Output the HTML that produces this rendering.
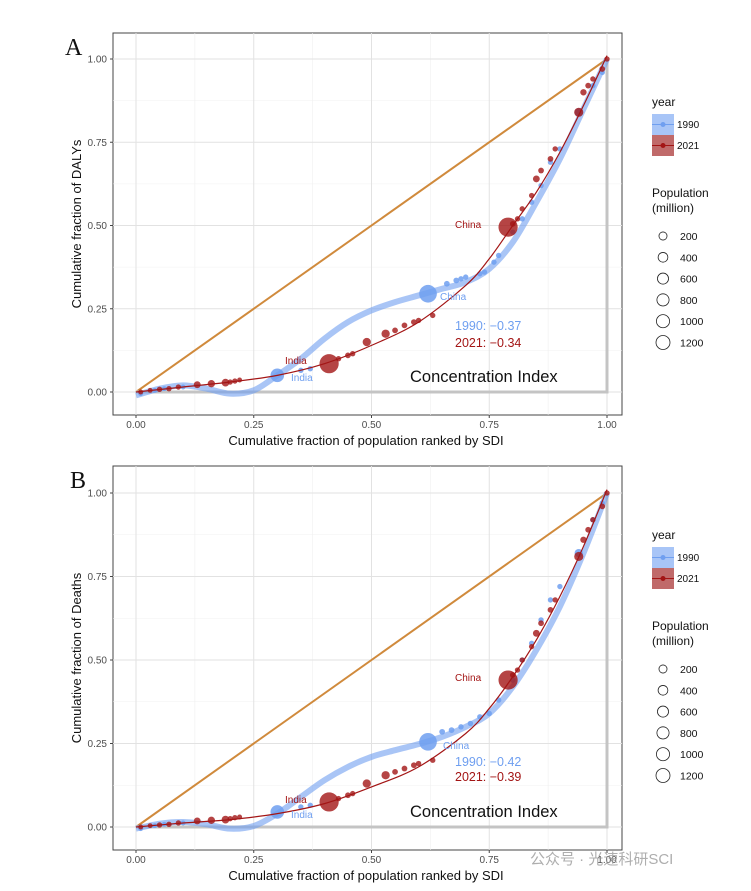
<!DOCTYPE html>
<html><head><meta charset="utf-8"><style>
body{margin:0;background:#fff;width:751px;height:891px;overflow:hidden;font-family:"Liberation Sans","Noto Sans CJK SC",sans-serif}
svg{display:block}
</style></head><body>
<svg id="chart" width="751" height="891" viewBox="0 0 751 891" xmlns="http://www.w3.org/2000/svg"></svg>
<script>
// ---- data: panel A (DALYs) ----
const tickValues = [0, 0.25, 0.5, 0.75, 1];
const tickLabels = ["0.00", "0.25", "0.50", "0.75", "1.00"];
const legendPops = [200, 400, 600, 800, 1000, 1200];
const aCurve1990X = [0,0.05,0.1,0.15,0.2,0.25,0.3,0.35,0.4,0.45,0.5,0.55,0.6,0.65,0.7,0.75,0.8,0.85,0.9,0.95,1];
const aCurve1990Y = [-0.01,0.01,0.02,0.01,-0.005,0.005,0.05,0.1,0.16,0.21,0.245,0.27,0.29,0.31,0.33,0.37,0.45,0.57,0.7,0.85,1.0];
const aCurve2021X = [0,0.1,0.2,0.3,0.4,0.5,0.6,0.7,0.75,0.8,0.85,0.9,0.95,1];
const aCurve2021Y = [0,0.015,0.03,0.05,0.085,0.14,0.21,0.32,0.4,0.5,0.6,0.72,0.86,1.01];
const aPts1990X = [0.01,0.04,0.06,0.1,0.3,0.35,0.37,0.62,0.66,0.68,0.69,0.7,0.73,0.74,0.76,0.77,0.8,0.82,0.84,0.86,0.88,0.9,0.94,0.97,0.99];
const aPts1990Y = [-0.005,0.005,0.01,0.015,0.05,0.065,0.07,0.295,0.325,0.335,0.34,0.345,0.355,0.36,0.39,0.41,0.48,0.52,0.57,0.62,0.69,0.73,0.84,0.92,0.96];
const aPts1990Pop = [20,20,20,20,600,30,30,1150,40,40,30,30,30,30,30,30,30,30,30,30,30,30,150,30,30];
const aPts2021X = [0.01,0.03,0.05,0.07,0.09,0.13,0.16,0.19,0.2,0.21,0.22,0.41,0.43,0.45,0.46,0.49,0.53,0.55,0.57,0.59,0.6,0.63,0.79,0.8,0.81,0.82,0.84,0.85,0.86,0.88,0.89,0.94,0.95,0.96,0.97,0.99,1.0];
const aPts2021Y = [0,0.005,0.008,0.01,0.015,0.022,0.025,0.028,0.03,0.033,0.036,0.085,0.1,0.11,0.115,0.15,0.175,0.185,0.2,0.21,0.215,0.23,0.495,0.505,0.52,0.55,0.59,0.64,0.665,0.7,0.73,0.84,0.9,0.92,0.94,0.97,1.0];
const aPts2021Pop = [20,20,30,30,30,80,100,120,30,30,20,1400,30,40,30,150,150,40,40,40,30,30,1400,40,30,30,30,80,40,40,30,200,60,40,30,40,30];
// ---- data: panel B (Deaths) ----
const bCurve1990X = [0,0.05,0.1,0.15,0.2,0.25,0.3,0.35,0.4,0.45,0.5,0.55,0.6,0.65,0.7,0.75,0.8,0.85,0.9,0.95,1];
const bCurve1990Y = [-0.005,0.01,0.015,0.008,-0.005,0.003,0.04,0.09,0.14,0.18,0.21,0.23,0.248,0.27,0.3,0.34,0.42,0.53,0.66,0.82,1.0];
const bCurve2021X = [0,0.1,0.2,0.3,0.4,0.5,0.6,0.7,0.75,0.8,0.85,0.9,0.95,1];
const bCurve2021Y = [0,0.012,0.022,0.04,0.07,0.12,0.18,0.28,0.355,0.45,0.56,0.69,0.84,1.01];
const bPts1990X = [0.01,0.04,0.06,0.1,0.3,0.35,0.37,0.62,0.65,0.67,0.69,0.71,0.73,0.75,0.77,0.8,0.82,0.84,0.86,0.88,0.9,0.94,0.97,0.99];
const bPts1990Y = [-0.005,0.004,0.008,0.012,0.045,0.06,0.065,0.255,0.285,0.29,0.3,0.31,0.33,0.34,0.38,0.44,0.5,0.55,0.62,0.68,0.72,0.82,0.92,0.97];
const bPts1990Pop = [20,20,20,20,600,30,30,1150,40,40,30,30,30,30,30,30,30,30,30,30,30,150,30,30];
const bPts2021X = [0.01,0.03,0.05,0.07,0.09,0.13,0.16,0.19,0.2,0.21,0.22,0.41,0.43,0.45,0.46,0.49,0.53,0.55,0.57,0.59,0.6,0.63,0.79,0.8,0.81,0.82,0.84,0.85,0.86,0.88,0.89,0.94,0.95,0.96,0.97,0.99,1.0];
const bPts2021Y = [0,0.004,0.006,0.008,0.012,0.018,0.02,0.022,0.025,0.028,0.03,0.075,0.085,0.095,0.1,0.13,0.155,0.165,0.175,0.185,0.19,0.2,0.44,0.455,0.47,0.5,0.54,0.58,0.61,0.65,0.68,0.81,0.86,0.89,0.92,0.96,1.0];
const bPts2021Pop = [20,20,30,30,30,80,100,120,30,30,20,1400,30,40,30,150,150,40,40,40,30,30,1400,40,30,30,30,80,40,40,30,200,60,40,30,40,30];

const NS = "http://www.w3.org/2000/svg";
const svg = document.getElementById("chart");
function mk(tag, attrs, parent, text) {
  const e = document.createElementNS(NS, tag);
  for (const k in attrs) e.setAttribute(k, attrs[k]);
  if (text !== undefined) e.textContent = text;
  (parent || svg).appendChild(e);
  return e;
}
const BLUE = "#6f9ff0", RED = "#a31515";
function rOf(p) { return 1.5 + Math.sqrt(p / 1200) * 7.5; }

function panel(o) {
  const x0 = 136, x1 = 607, y0 = o.y0, y1 = o.y1;
  const sx = v => x0 + v * (x1 - x0);
  const sy = v => y0 + v * (y1 - y0);
  const g = mk("g", {});
  
  
  mk("rect", { x: 113, y: o.top, width: 509, height: o.bottom - o.top, fill: "#fff", stroke: "#444", "stroke-width": 1 }, g);
  // minor grid
  for (let i = 0; i < 4; i++) {
    const m = 0.125 + i * 0.25;
    mk("line", { x1: sx(m), x2: sx(m), y1: o.top, y2: o.bottom, stroke: "#f0f0f0", "stroke-width": 0.6 }, g);
    mk("line", { x1: 113, x2: 622, y1: sy(m), y2: sy(m), stroke: "#f0f0f0", "stroke-width": 0.6 }, g);
  }
  tickValues.forEach((v, i) => {
    const gx = mk("line", { x1: sx(v), x2: sx(v), y1: o.top, y2: o.bottom, stroke: "#e2e2e2", "stroke-width": 1 }, g);
    
    
    mk("line", { x1: 113, x2: 622, y1: sy(v), y2: sy(v), stroke: "#e2e2e2", "stroke-width": 1 }, g);
    mk("line", { x1: sx(v), x2: sx(v), y1: o.bottom, y2: o.bottom + 3, stroke: "#444" }, g);
    mk("line", { x1: 110, x2: 113, y1: sy(v), y2: sy(v), stroke: "#444" }, g);
    const xt = mk("text", { x: sx(v), y: o.bottom + 13, "text-anchor": "middle", "font-size": 10, fill: "#4d4d4d" }, g, tickLabels[i]);
    
    
    const yt = mk("text", { x: 107, y: sy(v) + 3.5, "text-anchor": "end", "font-size": 10, fill: "#4d4d4d" }, g, tickLabels[i]);
    
    
  });
  const xTitle = mk("text", { x: 366, y: o.bottom + 30, "text-anchor": "middle", "font-size": 13, fill: "#111" }, g, "Cumulative fraction of population ranked by SDI");
  
  
  const yTitle = mk("text", { x: 0, y: 0, transform: `translate(81,${(o.top + o.bottom) / 2}) rotate(-90)`, "text-anchor": "middle", "font-size": 13, fill: "#111" }, g, o.ytitle);
  
  
  const lab = mk("text", { x: o.labX, y: o.top + 22, "font-size": 24, "font-family": "Liberation Serif, serif", fill: "#111" }, g, o.letter);
  
  
  // equality line & gray bound
  const eq = mk("line", { x1: sx(0), y1: sy(0), x2: sx(1), y2: sy(1), stroke: "#d08a3c", "stroke-width": 2 }, g);
  
  
  const gb = mk("polyline", { points: `${sx(0)},${sy(0)} ${sx(1)},${sy(0)} ${sx(1)},${sy(1)}`, fill: "none", stroke: "#c4c4c4", "stroke-width": 3 }, g);
  
  
  function curve(xs, ys) {
    let d = "M" + sx(xs[0]) + "," + sy(ys[0]);
    for (let i = 0; i < xs.length - 1; i++) {
      const p0 = [sx(xs[Math.max(0, i - 1)]), sy(ys[Math.max(0, i - 1)])];
      const p1 = [sx(xs[i]), sy(ys[i])], p2 = [sx(xs[i + 1]), sy(ys[i + 1])];
      const p3 = [sx(xs[Math.min(xs.length - 1, i + 2)]), sy(ys[Math.min(xs.length - 1, i + 2)])];
      d += ` C${p1[0] + (p2[0] - p0[0]) / 6},${p1[1] + (p2[1] - p0[1]) / 6} ${p2[0] - (p3[0] - p1[0]) / 6},${p2[1] - (p3[1] - p1[1]) / 6} ${p2[0]},${p2[1]}`;
    }
    return d;
  }
  const c1 = mk("path", { d: curve(o.c90x, o.c90y), fill: "none", stroke: BLUE, "stroke-width": 6, opacity: 0.6 }, g);
  
  
  o.p90x.forEach((v, i) => {
    const c = mk("circle", { cx: sx(v), cy: sy(o.p90y[i]), r: rOf(o.p90p[i]), fill: BLUE, opacity: 0.85 }, g);
    
    
  });
  o.p21x.forEach((v, i) => {
    const c = mk("circle", { cx: sx(v), cy: sy(o.p21y[i]), r: rOf(o.p21p[i]), fill: RED, opacity: 0.8 }, g);
    
    
  });
  const c2 = mk("path", { d: curve(o.c21x, o.c21y), fill: "none", stroke: RED, "stroke-width": 1.2 }, g);
  
  
  o.labels.forEach(l => {
    const t = mk("text", { x: l[0], y: l[1], "font-size": l[4], fill: l[3] }, g, l[2]);
    
    
  });
  // legend
  const lg = mk("g", {}, g);
  
  
  const ly = o.top + 75;
  mk("text", { x: 652, y: ly - 2, "font-size": 12, fill: "#111" }, lg, "year");
  mk("rect", { x: 652, y: ly + 6, width: 22, height: 21, fill: "#a8c5f7" }, lg);
  mk("line", { x1: 652, x2: 674, y1: ly + 16.5, y2: ly + 16.5, stroke: BLUE }, lg);
  mk("circle", { cx: 663, cy: ly + 16.5, r: 2.5, fill: BLUE }, lg);
  mk("text", { x: 677, y: ly + 20, "font-size": 10, fill: "#111" }, lg, "1990");
  mk("rect", { x: 652, y: ly + 27, width: 22, height: 21, fill: "#c06a6a" }, lg);
  mk("line", { x1: 652, x2: 674, y1: ly + 37.5, y2: ly + 37.5, stroke: RED }, lg);
  mk("circle", { cx: 663, cy: ly + 37.5, r: 2.5, fill: RED }, lg);
  mk("text", { x: 677, y: ly + 41, "font-size": 10, fill: "#111" }, lg, "2021");
  mk("text", { x: 652, y: ly + 89, "font-size": 12, fill: "#111" }, lg, "Population");
  mk("text", { x: 652, y: ly + 104, "font-size": 12, fill: "#111" }, lg, "(million)");
  legendPops.forEach((p, i) => {
    const cy = ly + 128 + i * 21.3;
    const c = mk("circle", { cx: 663, cy: cy, r: 2 + Math.sqrt(p / 1200) * 5, fill: "none", stroke: "#222", "stroke-width": 0.8 }, lg);
    
    
    mk("text", { x: 680, y: cy + 4, "font-size": 10.5, fill: "#111" }, lg, String(p));
  });
}

panel({ name: "panel-a-dalys", y0: 392, y1: 59, top: 33, bottom: 415, ytitle: "Cumulative fraction of DALYs", letter: "A", labX: 65,
  c90x: aCurve1990X, c90y: aCurve1990Y, c21x: aCurve2021X, c21y: aCurve2021Y,
  p90x: aPts1990X, p90y: aPts1990Y, p90p: aPts1990Pop, p21x: aPts2021X, p21y: aPts2021Y, p21p: aPts2021Pop,
  labels: [[285,364,"India",RED,10,"india-label-2021"],[291,381,"India",BLUE,10,"india-label-1990"],[440,300,"China",BLUE,10,"china-label-1990"],[455,228,"China",RED,10,"china-label-2021"],
           [455,330,"1990: \u22120.37",BLUE,12.5,"ci-1990"],[455,347,"2021: \u22120.34",RED,12.5,"ci-2021"],[410,382,"Concentration Index","#111",16.5,"concentration-index-title"]] });
panel({ name: "panel-b-deaths", y0: 827, y1: 493, top: 466, bottom: 850, ytitle: "Cumulative fraction of Deaths", letter: "B", labX: 70,
  c90x: bCurve1990X, c90y: bCurve1990Y, c21x: bCurve2021X, c21y: bCurve2021Y,
  p90x: bPts1990X, p90y: bPts1990Y, p90p: bPts1990Pop, p21x: bPts2021X, p21y: bPts2021Y, p21p: bPts2021Pop,
  labels: [[285,803,"India",RED,10,"india-label-2021"],[291,818,"India",BLUE,10,"india-label-1990"],[443,749,"China",BLUE,10,"china-label-1990"],[455,681,"China",RED,10,"china-label-2021"],
           [455,766,"1990: \u22120.42",BLUE,12.5,"ci-1990"],[455,781,"2021: \u22120.39",RED,12.5,"ci-2021"],[410,817,"Concentration Index","#111",16.5,"concentration-index-title"]] });
const wm = mk("text", { x: 530, y: 864, "font-size": 15, fill: "#9a9a9a", opacity: 0.8 }, svg, "公众号 · 光速科研SCI");


</script>
</body></html>
